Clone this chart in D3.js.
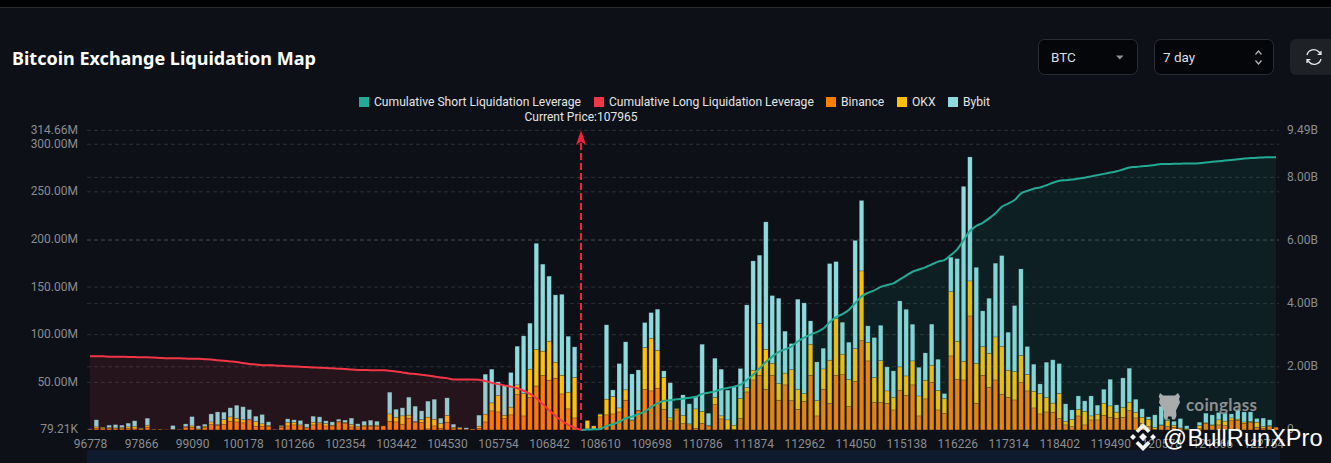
<!DOCTYPE html>
<html>
<head>
<meta charset="utf-8">
<title>Bitcoin Exchange Liquidation Map</title>
<script src="https://cdn.jsdelivr.net/npm/d3@7"></script>
<style>
    html, body { margin: 0; padding: 0; background: #0d1017; overflow: hidden; }
    svg { display: block; }
    text { font-family: Roboto, sans-serif; }
    .axis text { fill: #8a8c90; font-size: 12px; }
    .axis .domain { display: none; }
    .grid line { stroke: #2c2f34; stroke-dasharray: 4 3; }
    .legend text { fill: #e4e5e7; font-size: 12.1px; }
</style>
</head>
<body>
<div id="chart"></div>
<script>
///// DATOS /////
let priceTicks = ['96778','97866','99090','100178','101266','102354','103442','104530','105754','106842','108610','109698','110786','111874','112962','114050','115138','116226','117314','118402','119490','120578','121666','122754'];
let leftTicks = [0.07921, 50, 100, 150, 200, 250, 300, 314.66];
let leftLabels = ['79.21K', '50.00M', '100.00M', '150.00M', '200.00M', '250.00M', '300.00M', '314.66M'];
let rightTicks = [0, 2, 4, 6, 8, 9.49];
let rightLabels = ['0', '2.00B', '4.00B', '6.00B', '8.00B', '9.49B'];

// millones por nivel de precio
let binance = [0.5,1.8,1.4,1.8,1.4,1.4,1.4,1.1,1.1,2.8,0.3,0.3,0.2,0.4,0.4,2.8,2.8,0.4,2.8,5.6,4.9,6.0,9.1,8.4,7.4,10.5,3.9,3.9,3.9,0.3,2.8,4.2,5.3,4.2,2.1,5.3,6.3,4.2,4.2,8.4,6.7,3.2,2.1,
    3.5,3.5,3.5,4.2,9.1,8.4,6.0,12.3,7.7,7.7,1.1,4.2,1.8,8.1,1.4,0.7,0.4,1.0,1.8,8.4,20.0,18.9,11.9,15.8,37.1,14.7,34.0,46.2,57.1,52.2,54.3,37.8,22.1,12.6,0,1.1,0.7,13.7,15.8,16.8,18.9,31.2,9.8,20.0,42.4,41.0,43.8,
    21.7,9.5,21.0,6.7,5.3,1.8,7.0,4.2,26.6,11.6,0.4,0.7,12.3,39.9,52.5,57.4,42.7,57.4,31.2,47.3,30.8,21.7,30.1,57.4,14.7,42.7,28.0,57.4,58.1,24.5,50.8,93.8,72.5,29.1,28.7,28.0,
    21.0,41.3,36.4,47.3,14.7,32.6,50.1,21.0,17.5,77.7,53.2,52.5,119.7,28.0,57.4,44.8,52.5,37.5,34.3,31.5,49.7,41.0,23.1,16.8,18.9,18.6,11.9,
    5.3,3.5,14.7,5.3,10.5,10.5,15.4,13.3,12.3,13.3,20.3,12.6,7.0,3.5,0.7,4.6,3.5,2.8,1.4,0.4,0,1.4,7.0,4.6,5.3,4.6,9.8,10.2,7.0,8.1,2.8,1.8,3.5,2.8];
let okx = [0.3,1.4,1.1,0.7,0.7,1.1,1.8,2.5,0.7,2.1,0.4,0.4,0.1,0.3,0.2,0.7,1.4,0.7,1.1,2.8,0.7,4.9,4.6,3.5,3.2,0.7,4.9,2.5,0.7,0.2,1.1,3.5,2.5,1.1,0.7,2.8,1.4,2.5,0.7,0.7,1.1,2.5,1.8,
    1.4,1.1,1.4,0,7.7,4.9,8.8,3.2,1.1,3.2,12.3,7.0,4.9,7.0,1.4,1.4,0.4,0,2.1,8.1,8.4,17.2,3.5,8.1,10.2,23.5,29.8,38.5,25.6,41.0,16.8,19.6,17.5,42.4,0,8.8,3.5,2.5,16.5,18.2,4.2,10.9,0.7,0.7,44.1,55.3,39.9,
    33.3,3.2,1.4,8.4,1.1,20.3,12.3,0.4,7.7,3.2,10.2,4.2,20.7,4.6,10.2,54.3,42.0,12.6,17.5,12.3,32.6,20.7,8.1,32.6,16.1,21.4,45.2,59.5,21.4,28.4,34.7,73.2,19.3,25.9,44.1,13.0,
    13.3,24.9,20.3,25.2,21.0,19.6,17.9,20.3,15.4,67.6,39.9,19.6,36.8,42.0,30.1,35.7,45.2,50.4,28.4,29.8,28.4,17.2,17.5,21.4,15.1,9.5,26.6,
    3.9,7.4,7.0,14.0,4.2,6.0,12.6,11.9,6.3,10.5,8.8,5.6,6.3,7.7,2.1,0.7,6.3,2.1,0.7,0.7,0,3.2,0.4,0.7,5.3,4.6,2.8,1.1,1.4,0.7,5.3,1.8,1.1,0];
let bybit = [0.3,7.4,0.4,2.5,3.5,2.5,3.9,6.0,0.3,7.4,0,0,0.1,3.9,0.1,2.8,9.8,3.2,2.1,8.4,13.3,7.7,9.5,14.0,13.7,10.1,5.6,9.8,3.9,0.2,0.7,3.9,2.8,4.6,3.5,6.3,6.0,2.8,3.5,2.1,2.5,6.7,2.5,
    4.2,5.6,4.2,0,22.8,8.4,8.4,18.9,16.1,9.1,16.8,21.0,5.6,18.6,3.2,0.7,1.4,0,11.6,42.0,35.4,14.4,31.5,36.4,40.6,60.6,48.3,111.3,91.4,68.3,70.7,85.0,58.8,32.2,0,0,0,0.7,78.1,7.0,46.6,50.4,48.3,42.3,26.3,26.9,43.1,
    7.0,36.8,0,21.7,21.0,12.9,70.7,12.9,41.0,49.0,31.2,40.6,31.5,86.8,114.8,71.8,133.8,71.1,89.6,44.1,27.3,94.9,95.2,24.5,40.6,21.7,101.5,59.9,33.6,39.2,113.6,74.0,17.5,42.0,37.1,25.2,
    27.7,69.3,70.0,38.5,30.1,28.7,43.1,32.9,5.3,36.1,86.8,183.7,130.2,100.8,37.5,57.8,77.4,95.2,39.9,69.3,91.0,29.4,28.4,10.1,37.1,45.5,31.2,
    18.2,10.1,14.0,11.2,21.0,9.5,14.7,28.0,7.7,30.8,35.7,14.0,8.8,2.5,13.0,19.6,1.4,4.2,9.8,3.2,0,3.5,10.2,10.5,7.7,8.4,4.2,9.8,10.5,10.1,3.9,8.8,6.0,0];

// miles de millones, acumulados hacia el precio actual
let cumLong = [2.33,2.33,2.33,2.32,2.32,2.32,2.31,2.31,2.30,2.30,2.29,2.28,2.27,2.27,2.27,2.26,2.25,2.25,2.24,2.23,2.21,2.19,2.17,2.15,2.12,2.09,2.07,2.05,2.05,2.04,2.03,2.02,2.01,2.00,1.99,1.98,1.97,1.96,1.95,1.94,1.93,1.91,1.90,1.90,1.89,1.89,1.89,1.87,1.85,1.82,1.79,1.77,1.75,1.72,1.69,1.66,1.64,1.60,1.60,1.60,1.60,1.59,1.55,1.49,1.45,1.41,1.37,1.32,1.24,1.14,1.00,0.82,0.63,0.45,0.29,0.16,0.07,0];
let cumShort = [0,0.01,0.02,0.03,0.13,0.18,0.26,0.37,0.42,0.50,0.58,0.72,0.84,
    0.92,0.94,0.97,0.99,1.02,1.05,1.14,1.18,1.22,1.29,1.33,1.37,1.43,1.58,1.75,1.95,2.15,2.32,2.47,2.55,2.64,2.80,2.92,3.02,3.10,3.21,3.41,3.57,3.67,3.80,4.01,4.23,4.34,4.42,4.53,4.59,
    4.64,4.77,4.89,5.01,5.08,5.15,5.24,5.33,5.38,5.54,5.72,6.01,6.30,6.46,6.56,6.70,6.86,7.07,7.17,7.28,7.49,7.57,7.64,7.68,7.75,7.83,7.89,
    7.91,7.93,7.96,7.99,8.03,8.07,8.11,8.15,8.19,8.25,8.31,8.33,8.35,8.37,8.39,8.42,8.42,8.43,8.43,8.44,8.44,8.45,8.47,8.49,8.51,8.53,8.55,8.57,8.60,8.61,8.62,8.63,8.64,8.64];

let currentIndex = cumLong.length - 1;
let seriesNames = ['Cumulative Short Liquidation Leverage', 'Cumulative Long Liquidation Leverage', 'Binance', 'OKX', 'Bybit'];
let seriesColors = ['#22ab94', '#f23645', '#ff7f00', '#ffc107', '#8ddbdd'];

///// ESCALAS /////
let svg = d3.select('#chart').append('svg').attr('width', 1331).attr('height', 463);

let x = d3.scalePoint().domain(d3.range(binance.length)).range([90, 1276]);
let y = d3.scaleLinear().domain([0, 314.66]).range([429.9, 130.3]);
let yRight = d3.scaleLinear().domain([0, 9.49]).range([429.9, 130.3]);

///// FONDO Y CABECERA /////
svg.append('rect').attr('width', 1331).attr('height', 7).attr('fill', '#010204');
svg.append('rect').attr('y', 7).attr('width', 1331).attr('height', 1).attr('fill', '#2a2c30');
svg.append('rect').attr('x', 87).attr('y', 450).attr('width', 1193).attr('height', 13).attr('fill', '#101a2e');

svg.append('text')
    .attr('x', 12).attr('y', 64.5)
    .attr('fill', '#ffffff')
    .style('font-family', '"Noto Sans", sans-serif')
    .style('font-size', '18px').style('font-weight', 700)
    .text('Bitcoin Exchange Liquidation Map');

function selectBox(bx, bw, label, tx) {
    svg.append('rect').attr('x', bx + .5).attr('y', 39.5).attr('width', bw).attr('height', 35).attr('rx', 6)
        .attr('fill', '#04060a').attr('stroke', '#2a2d33');
    svg.append('text').attr('x', tx).attr('y', 62).attr('fill', '#d8dde6').style('font-size', '13.5px').text(label);
}
selectBox(1038, 99, 'BTC', 1051);
selectBox(1154, 119, '7 day', 1163);
svg.append('path').attr('d', 'M1116 55.5h7.5l-3.75 4z').attr('fill', '#8e9196');
svg.append('path').attr('d', 'M1255.5 54.5l3-3.5 3 3.5M1255.5 60.5l3 3.5 3-3.5').attr('fill', 'none').attr('stroke', '#b5b7ba').attr('stroke-width', 1.2);
svg.append('path').attr('d', 'M1296 39h35v36h-35a6 6 0 0 1-6-6v-24a6 6 0 0 1 6-6z').attr('fill', '#1e2126');
svg.append('path')
    .attr('d', 'M1307 55a7 7 0 0 1 12-3l2 2.2M1321 59a7 7 0 0 1-12 3l-2-2.2M1321 51v3.4h-3.4M1307 63v-3.4h3.4')
    .attr('fill', 'none').attr('stroke', '#e6e7e9').attr('stroke-width', 1.3);

///// LEYENDA /////
let legendX = [359, 594, 826, 897, 948];
let legend = svg.append('g').attr('class', 'legend');
seriesNames.forEach(function(name, i) {
    legend.append('rect').attr('x', legendX[i]).attr('y', 97).attr('width', 10).attr('height', 10).attr('fill', seriesColors[i]);
    legend.append('text').attr('x', legendX[i] + 15).attr('y', 106).text(name);
});
svg.append('text').attr('x', 581).attr('y', 121).attr('text-anchor', 'middle').attr('fill', '#e4e5e7')
    .style('font-size', '12px').text('Current Price:' + '107965');

///// REJILLA Y EJES /////
let grid = svg.append('g').attr('class', 'grid');
grid.selectAll('line.l').data(leftTicks.slice(1)).join('line').attr('class', 'l')
    .attr('x1', 87).attr('x2', 1279).attr('y1', d => y(d)).attr('y2', d => y(d));
grid.selectAll('line.r').data(rightTicks.slice(1, 5)).join('line').attr('class', 'r')
    .attr('x1', 87).attr('x2', 1279).attr('y1', d => yRight(d)).attr('y2', d => yRight(d));

svg.append('g').attr('class', 'axis')
    .attr('transform', 'translate(87,0)')
    .call(d3.axisLeft(y).tickValues(leftTicks).tickSize(0).tickPadding(9).tickFormat((d, i) => leftLabels[i]))
    .selectAll('text').attr('dy', '.25em');
svg.append('g').attr('class', 'axis')
    .attr('transform', 'translate(1279,0)')
    .call(d3.axisRight(yRight).tickValues(rightTicks).tickSize(0).tickPadding(8).tickFormat((d, i) => rightLabels[i]))
    .selectAll('text').attr('dy', '.25em');
svg.append('g').attr('class', 'axis')
    .attr('transform', 'translate(0,430)')
    .call(d3.axisBottom(x).tickValues(priceTicks.map((d, i) => i * 8)).tickSize(0).tickPadding(9).tickFormat((d, i) => priceTicks[i]));

///// BARRAS APILADAS /////
let barWidth = 4.5;
let stackData = binance.map((d, i) => ({ i: i, binance: d, okx: okx[i], bybit: bybit[i] }));
let stack = d3.stack().keys(['binance', 'okx', 'bybit'])(stackData);

svg.append('g').selectAll('g').data(stack).join('g')
    .attr('fill', (d, i) => seriesColors[i + 2])
    .attr('stroke', '#0d1017').attr('stroke-opacity', .35).attr('stroke-width', .6)
    .selectAll('rect').data(d => d).join('rect')
    .attr('x', d => x(d.data.i) - barWidth / 2)
    .attr('width', barWidth)
    .attr('y', d => y(d[1]))
    .attr('height', d => y(d[0]) - y(d[1]));

///// ACUMULADOS /////
let longPoints = cumLong.map((d, i) => ({ i: i, v: d }));
let shortPoints = cumShort.map((d, i) => ({ i: i + currentIndex, v: d }));

let line = d3.line().x(d => x(d.i)).y(d => yRight(d.v)).curve(d3.curveMonotoneX);
let area = d3.area().x(d => x(d.i)).y0(yRight(0)).y1(d => yRight(d.v)).curve(d3.curveMonotoneX);

svg.append('path').datum(longPoints).attr('d', area).attr('fill', seriesColors[1]).attr('fill-opacity', .11);
svg.append('path').datum(shortPoints).attr('d', area).attr('fill', seriesColors[0]).attr('fill-opacity', .1);
svg.append('path').datum(longPoints).attr('d', line).attr('fill', 'none').attr('stroke', seriesColors[1]).attr('stroke-width', 2);
svg.append('path').datum(shortPoints).attr('d', line).attr('fill', 'none').attr('stroke', seriesColors[0]).attr('stroke-width', 2);

///// PRECIO ACTUAL /////
let cx = x(currentIndex);
svg.append('line').attr('x1', cx).attr('x2', cx).attr('y1', y(0)).attr('y2', 143)
    .attr('stroke', '#f5203c').attr('stroke-width', 2).attr('stroke-dasharray', '7 3');
svg.append('path')
    .attr('d', 'M' + cx + ' 130.5l5 14.5-5-3.5-5 3.5z')
    .attr('fill', '#f5203c');

///// MARCAS DE AGUA /////
svg.append('path')
    .attr('d', 'M1160 393l3 2.5h12l3-2.5 2 3.5-1 2.5 1 3.5-2.5 5-1.5 3 .5 5-1.5 4h-3l-.5-3h-3.5l-.5 3h-3l-1-4 .5-4-2-3.5-3-5.5.8-3.5-1-2.5z')
    .attr('fill', '#a9abad');
svg.append('text').attr('x', 1186).attr('y', 410.5).attr('fill', '#8d8f92')
    .style('font-family', 'Lato, sans-serif').style('font-size', '17px').style('font-weight', 700)
    .style('letter-spacing', '.3px').text('coinglass');

let logo = svg.append('g').attr('transform', 'translate(1143,437)').attr('fill', '#f2f2f2');
logo.append('path').attr('d', 'M0-4l4 4-4 4-4-4z');
logo.append('path').attr('d', 'M0-14l7.5 7.5-2.6 2.6L0-8.8-4.9-3.9-7.5-6.5z');
logo.append('path').attr('d', 'M0 14l7.5-7.5-2.6-2.6L0 8.8-4.9 3.9-7.5 6.5z');
logo.append('path').attr('d', 'M-13 0l3-3 3 3-3 3zM13 0l-3-3-3 3 3 3z');

svg.append('text').attr('x', 1163).attr('y', 446).attr('fill', '#ffffff')
    .style('font-family', '"Liberation Sans", sans-serif').style('font-size', '23.6px')
    .style('word-spacing', '-6px')
    .text('@ BullRunXPro');
</script>
</body>
</html>
